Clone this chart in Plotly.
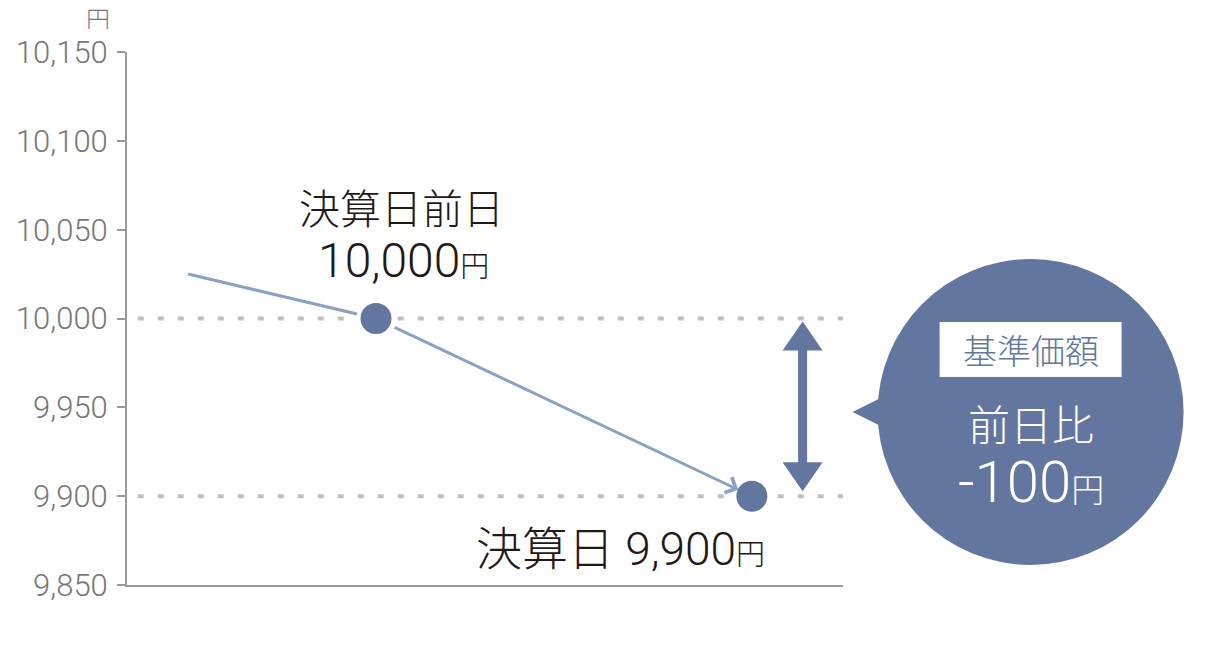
import plotly.graph_objects as go

# ---- data ----
x_pos = [0, 1, 3]
prices = [10025, 10000, 9900]
point_labels = ["決算日前日", "決算日"]
y_ticks = [9850, 9900, 9950, 10000, 10050, 10100, 10150]
unit = "円"
bubble_title = "基準価額"
bubble_sub = "前日比"

# ---- style ----
ACCENT = "#62769f"
LINE = "#87a2c3"
GRAY = "#999999"
TICKTXT = "#777777"
DOT = "#c0c0c0"
TEXT = "#231815"
FONT = "Roboto, 'Noto Sans CJK JP', sans-serif"
JP = "'Noto Sans CJK JP', sans-serif"

diff = prices[2] - prices[1]
arrow_x = 3.27
bx, by = 1.262, 0.3246  # bubble centre (paper)

fig = go.Figure()
fig.add_trace(go.Scatter(x=x_pos[:2], y=prices[:2], mode="lines",
                         line=dict(color=LINE, width=3), hoverinfo="skip", showlegend=False))
fig.add_trace(go.Scatter(x=x_pos[1:], y=prices[1:], mode="markers",
                         marker=dict(size=35, color=ACCENT, line=dict(color="white", width=4)),
                         hoverinfo="skip", showlegend=False))

# dotted reference lines
for p in prices[1:]:
    fig.add_shape(type="line", xref="paper", yref="y", x0=0.015, x1=1, y0=p, y1=p,
                  line=dict(color=DOT, width=4, dash="6px,14px"), layer="below")

# trend arrow to the settlement day
fig.add_annotation(x=x_pos[2], y=prices[2], ax=x_pos[1], ay=prices[1],
                   xref="x", yref="y", axref="x", ayref="y", text="",
                   showarrow=True, arrowhead=4, arrowsize=1.1, arrowwidth=3,
                   arrowcolor=LINE, standoff=15, startstandoff=19)

# double arrow showing difference
fig.add_annotation(x=arrow_x, y=prices[2], ax=arrow_x, ay=prices[1],
                   xref="x", yref="y", axref="x", ayref="y", text="",
                   showarrow=True, arrowhead=0, arrowwidth=9, arrowcolor=ACCENT,
                   standoff=20, startstandoff=20)
fig.add_shape(type="path", xref="x", yref="y", xsizemode="pixel", ysizemode="pixel",
              xanchor=arrow_x, yanchor=prices[1], path="M0,-3 L20,-32 L-20,-32 Z",
              fillcolor=ACCENT, line=dict(width=0))
fig.add_shape(type="path", xref="x", yref="y", xsizemode="pixel", ysizemode="pixel",
              xanchor=arrow_x, yanchor=prices[2], path="M0,5 L20,34 L-20,34 Z",
              fillcolor=ACCENT, line=dict(width=0))

# bubble
fig.add_shape(type="circle", xref="paper", yref="paper", xsizemode="pixel", ysizemode="pixel",
              xanchor=bx, yanchor=by, x0=-153, x1=153, y0=-153, y1=153,
              fillcolor=ACCENT, line=dict(width=0))
fig.add_shape(type="path", xref="paper", yref="paper", xsizemode="pixel", ysizemode="pixel",
              xanchor=bx, yanchor=by, path="M-178,0 L-120,29 L-120,-29 Z",
              fillcolor=ACCENT, line=dict(width=0))
fig.add_shape(type="rect", xref="paper", yref="paper", xsizemode="pixel", ysizemode="pixel",
              xanchor=bx, yanchor=by, x0=-91, x1=91, y0=35, y1=90,
              fillcolor="white", line=dict(width=0))

fig.add_annotation(xref="paper", yref="paper", x=bx, y=by, yshift=62, showarrow=False,
                   xanchor="center", yanchor="middle",
                   text=bubble_title, font=dict(family=JP, size=34, color=ACCENT, weight=300))
fig.add_annotation(xref="paper", yref="paper", x=bx, y=by, yshift=-11, showarrow=False,
                   xanchor="center", yanchor="middle",
                   text=bubble_sub, font=dict(family=JP, size=42, color="white", weight=300))
fig.add_annotation(xref="paper", yref="paper", x=bx, y=by, yshift=-70, showarrow=False,
                   xanchor="center", yanchor="middle",
                   text=f"{diff:,}<span style='font-size:33px'>{unit}</span>",
                   font=dict(family=FONT, size=58, color="white", weight=300))

# point labels
fig.add_annotation(x=x_pos[1], y=prices[1], xshift=25, yshift=113, showarrow=False,
                   text=point_labels[0], font=dict(family=JP, size=41, color=TEXT, weight=300))
fig.add_annotation(x=x_pos[1], y=prices[1], xshift=27, yshift=58, showarrow=False,
                   text=f"{prices[1]:,}<span style='font-size:29px'>{unit}</span>",
                   font=dict(family=FONT, size=48, color=TEXT, weight=300))
fig.add_annotation(x=x_pos[2], y=prices[2], xshift=-131, yshift=-53, showarrow=False,
                   text=f"<span style='font-family:{JP}'>{point_labels[1]}</span> {prices[2]:,}"
                        f"<span style='font-size:29px'>{unit}</span>",
                   font=dict(family=FONT, size=46, color=TEXT, weight=300))

# unit label
fig.add_annotation(xref="paper", yref="paper", x=-0.0405, y=1.0657, showarrow=False,
                   xanchor="center", yanchor="middle", height=24, borderpad=0,
                   text=unit, font=dict(family=JP, size=24, color=TICKTXT, weight=300))

fig.update_layout(
    width=1206, height=648, autosize=False,
    margin=dict(l=127, r=363, t=52, b=63),
    paper_bgcolor="white", plot_bgcolor="white",
    showlegend=False,
    xaxis=dict(range=[-0.325, 3.485], showline=True, linecolor=GRAY, linewidth=2,
               showticklabels=False, ticks="", showgrid=False, zeroline=False),
    yaxis=dict(range=[y_ticks[0], y_ticks[-1]], tickvals=y_ticks, tickformat=",",
               showline=True, linecolor=GRAY, linewidth=2, ticks="outside", ticklen=8,
               tickcolor=GRAY, tickwidth=2, showgrid=False, zeroline=False,
               ticklabelstandoff=3,
               tickfont=dict(family=FONT, size=31, color=TICKTXT, weight=300)),
)

fig.write_html("out.html", config={"displayModeBar": False},
               post_script="document.body.style.margin='0';")
